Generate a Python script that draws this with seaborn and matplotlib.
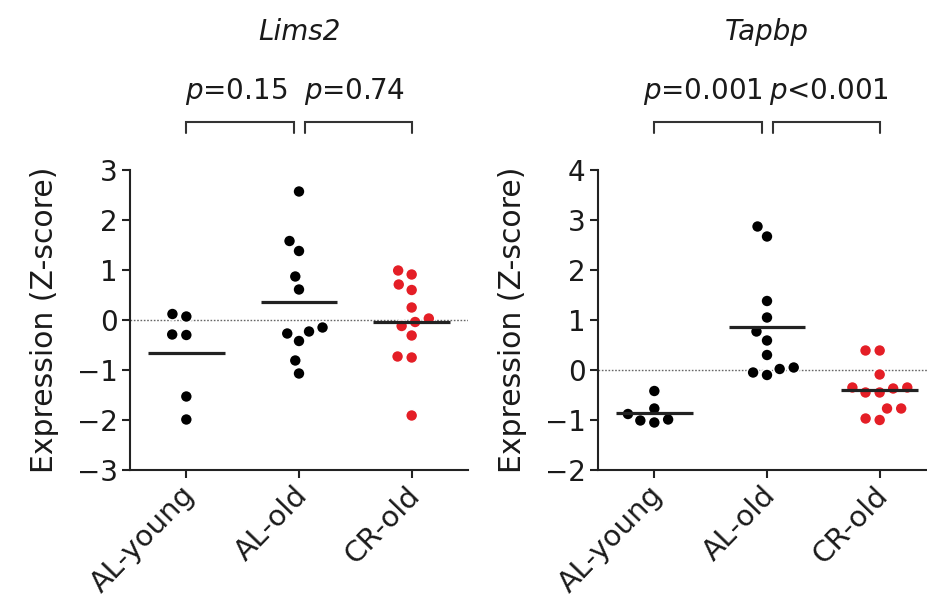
import numpy as np
import pandas as pd
import matplotlib
matplotlib.use("Agg")
import matplotlib.pyplot as plt
import seaborn as sns
from matplotlib.transforms import blended_transform_factory, ScaledTranslation

# Groups (x categories)
groups = ["AL-young", "AL-old", "CR-old"]

# Lims2 expression (Z-score) per animal
lims2_al_young = [0.12, 0.07, -0.30, -0.29, -1.53, -1.99]
lims2_al_old = [2.57, 1.58, 1.38, 0.87, 0.61, -0.15, -0.27, -0.23, -0.42, -0.81, -1.07]
lims2_cr_old = [0.99, 0.91, 0.71, 0.60, 0.25, 0.03, -0.04, -0.12, -0.31, -0.73, -0.75, -1.91]

# Tapbp expression (Z-score) per animal
tapbp_al_young = [-0.42, -0.77, -0.88, -0.99, -1.01, -1.05]
tapbp_al_old = [2.87, 2.67, 1.38, 1.05, 0.77, 0.59, 0.30, 0.05, 0.02, -0.05, -0.10]
tapbp_cr_old = [0.39, 0.39, -0.09, -0.35, -0.35, -0.37, -0.45, -0.45, -0.77, -0.77, -0.97, -1.00]

# Pairwise comparison labels (AL-young vs AL-old, AL-old vs CR-old)
lims2_pvals = ["$p$=0.15", "$p$=0.74"]
tapbp_pvals = ["$p$=0.001", "$p$<0.001"]

# Axis ranges / ticks
lims2_yticks = [-3, -2, -1, 0, 1, 2, 3]
tapbp_yticks = [-2, -1, 0, 1, 2, 3, 4]

sns.set_style("ticks")
plt.rcParams["font.family"] = ["DejaVu Sans"]
plt.rcParams["mathtext.fontset"] = "dejavusans"

INK = "#1a1a1a"
RED = "#e41e26"
palette = {"AL-young": "black", "AL-old": "black", "CR-old": RED}


def make_frame(a, b, c):
    return pd.DataFrame({
        "group": [groups[0]] * len(a) + [groups[1]] * len(b) + [groups[2]] * len(c),
        "value": list(a) + list(b) + list(c),
    })


def panel(ax, df, title, pvals, yticks, pv_x):
    ax.axhline(0, color="#666666", lw=1.0, ls=(0, (1.2, 1.2)), zorder=1)
    sns.swarmplot(data=df, x="group", y="value", hue="group", order=groups,
                  palette=palette, size=8.6, edgecolor="white", linewidth=1.1,
                  legend=False, ax=ax, zorder=3)
    means = df.groupby("group")["value"].mean().reindex(groups)
    pos = np.arange(len(groups))
    ax.hlines(means.values, pos - 0.34, pos + 0.34, color="#222222", lw=2.3, zorder=5)

    ax.set_xlim(-0.5, 2.5)
    ax.set_ylim(yticks[0], yticks[-1])
    ax.set_yticks(yticks)
    ax.set_yticklabels([f"{t}".replace("-", "\u2212") for t in yticks])
    ax.set_xlabel("")
    ax.set_ylabel("Expression (Z-score)", fontsize=21.5, color=INK)
    ax.yaxis.set_label_coords(-0.21, 0.5)

    for s in ["top", "right"]:
        ax.spines[s].set_visible(False)
    for s in ["left", "bottom"]:
        ax.spines[s].set_linewidth(1.5)
        ax.spines[s].set_color("#222222")
    ax.tick_params(axis="both", direction="out", length=6, width=1.5,
                   color="#222222", labelsize=20, labelcolor=INK)
    ax.tick_params(axis="y", pad=3)
    ax.tick_params(axis="x", pad=9, labelsize=21)
    shift = ScaledTranslation(4 / 100, 0, ax.figure.dpi_scale_trans)
    for lab in ax.get_xticklabels():
        lab.set_rotation(46)
        lab.set_ha("right")
        lab.set_va("center")
        lab.set_rotation_mode("anchor")
        lab.set_transform(lab.get_transform() + shift)

    tr = blended_transform_factory(ax.transData, ax.transAxes)
    ax.text(1.0, 1.46, title, transform=tr, ha="center", va="center",
            fontsize=20, style="italic", color=INK, clip_on=False)
    # comparison brackets
    spans = [(0.0, 0.96), (1.05, 2.0)]
    for (x0, x1), label, px in zip(spans, pvals, pv_x):
        ax.plot([x0, x0, x1, x1], [1.123, 1.16, 1.16, 1.123], transform=tr,
                color="#333333", lw=1.5, clip_on=False, solid_joinstyle="miter")
        ax.text(px, 1.237, label, transform=tr, ha="center", va="baseline",
                fontsize=20, color=INK, clip_on=False)


fig = plt.figure(figsize=(9.27, 6.0), dpi=100)
ax1 = fig.add_axes([130 / 927, 130 / 600, 338 / 927, 0.5])
ax2 = fig.add_axes([598 / 927, 130 / 600, 338 / 927, 0.5])

panel(ax1, make_frame(lims2_al_young, lims2_al_old, lims2_cr_old),
      "Lims2", lims2_pvals, lims2_yticks, [0.44, 1.49])
panel(ax2, make_frame(tapbp_al_young, tapbp_al_old, tapbp_cr_old),
      "Tapbp", tapbp_pvals, tapbp_yticks, [0.43, 1.55])

fig.savefig("out.png", dpi=100)
